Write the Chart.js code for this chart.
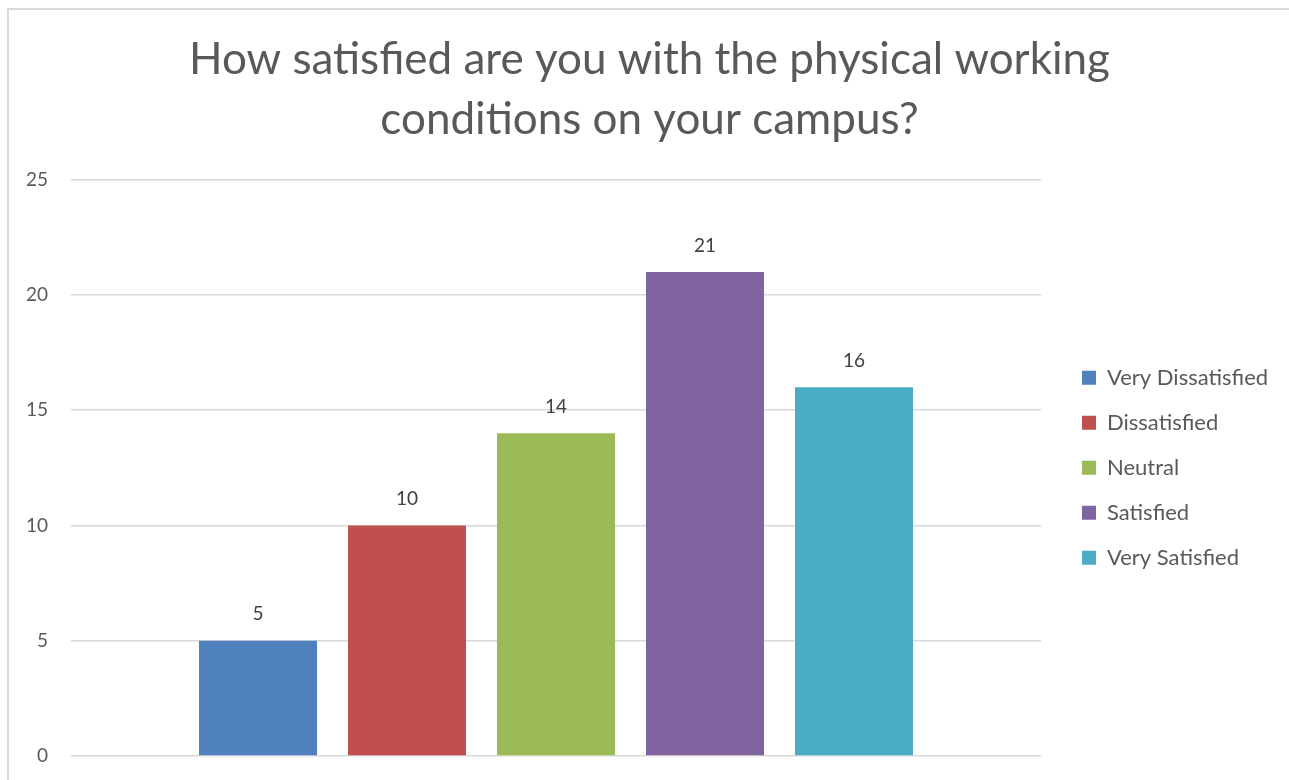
<!DOCTYPE html>
<html>
<head>
<meta charset="utf-8">
<script src="https://cdn.jsdelivr.net/npm/chart.js@4.4.1/dist/chart.umd.min.js"></script>
<style>
  html, body { margin: 0; padding: 0; background: #ffffff; }
  canvas { display: block; }
</style>
</head>
<body>
<canvas id="chart" width="1289" height="780"></canvas>
<script>
// data
const titleLines = ["How satisfied are you with the physical working", "conditions on your campus?"];
const categories = [""];
const seriesNames = ["Very Dissatisfied", "Dissatisfied", "Neutral", "Satisfied", "Very Satisfied"];
const seriesValues = [5, 10, 14, 21, 16];
const seriesColors = ["#4F81BD", "#C0504D", "#9BBB59", "#8064A2", "#4BACC6"];
const yTicks = [0, 5, 10, 15, 20, 25];

const fontFamily = "Lato, 'Open Sans', sans-serif";

// thin grey frame like the office chart border
const framePlugin = {
    id: 'frame',
    beforeDraw(chart)
    {
        let ctx = chart.ctx;
        ctx.save();
        ctx.fillStyle = "#ffffff";
        ctx.fillRect(0, 0, chart.width, chart.height);
        ctx.strokeStyle = "#d9d9d9";
        ctx.lineWidth = 2;
        ctx.strokeRect(8, 9, chart.width + 20, chart.height + 20);
        ctx.restore();
    }
};

// give the legend a wider slot and push it away from the plot, like excel does
const legendSlot = {
    id: 'legendSlot',
    beforeLayout(chart)
    {
        let lg = chart.legend;
        if (!lg || lg._wrapped) return;
        let origFit = lg.fit.bind(lg);
        lg.fit = function ()
        {
            origFit();
            this.width = Math.max(this.width, 248);
        };
        lg._wrapped = true;
    },
    afterLayout(chart)
    {
        let lg = chart.legend;
        if (!lg) return;
        lg.left += 18;
        lg.right += 18;
    }
};

// value labels above each bar
const valueLabels = {
    id: 'valueLabels',
    afterDatasetsDraw(chart)
    {
        let ctx = chart.ctx;
        ctx.save();
        ctx.font = "19px " + fontFamily;
        ctx.fillStyle = "#404040";
        ctx.textAlign = "center";
        ctx.textBaseline = "bottom";
        chart.data.datasets.forEach((ds, i) => {
            let meta = chart.getDatasetMeta(i);
            meta.data.forEach((bar, j) => {
                ctx.fillText(String(ds.data[j]), bar.x, bar.y - 17);
            });
        });
        ctx.restore();
    }
};

let datasets = seriesNames.map((name, i) => ({
    label: name,
    data: [seriesValues[i]],
    backgroundColor: seriesColors[i],
    borderWidth: 0,
    barPercentage: 0.792,
    categoryPercentage: 0.768
}));

let chartElement = document.getElementById('chart').getContext('2d');

let barChart = new Chart(chartElement,
    {
        type: 'bar',
        data:
            {
                labels: categories,
                datasets: datasets
            },
        options:
            {
                responsive: false,
                animation: false,
                devicePixelRatio: 1,
                layout:
                    {
                        padding: { left: 10, right: 0, top: 30, bottom: 24 }
                    },
                plugins:
                    {
                        title:
                            {
                                display: true,
                                text: titleLines,
                                color: "#595959",
                                font: { family: fontFamily, size: 44, weight: 'normal', lineHeight: 1.36 },
                                padding: { top: 0, bottom: 30 }
                            },
                        legend:
                            {
                                position: 'right',
                                fullSize: false,
                                labels:
                                    {
                                        color: "#595959",
                                        font: { family: fontFamily, size: 22 },
                                        boxWidth: 14,
                                        boxHeight: 14,
                                        padding: 23
                                    }
                            },
                        tooltip: { enabled: false }
                    },
                scales:
                    {
                        x:
                            {
                                display: false
                            },
                        y:
                            {
                                min: 0,
                                max: 25,
                                afterBuildTicks(scale)
                                {
                                    scale.ticks = yTicks.map(v => ({ value: v }));
                                },
                                afterFit(scale)
                                {
                                    scale.width = 61;
                                    scale.paddingTop = 0;
                                    scale.paddingBottom = 0;
                                },
                                border: { display: false },
                                grid: { color: "#d9d9d9", lineWidth: 1.5, drawTicks: false },
                                ticks:
                                    {
                                        color: "#595959",
                                        font: { family: fontFamily, size: 19 },
                                        padding: 23
                                    }
                            }
                    }
            },
        plugins: [framePlugin, legendSlot, valueLabels]
    });
</script>
</body>
</html>
